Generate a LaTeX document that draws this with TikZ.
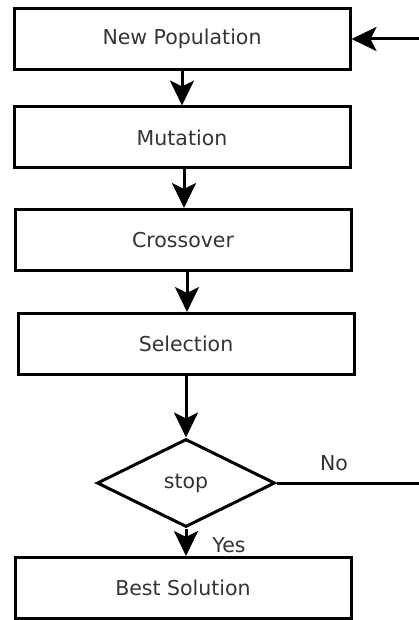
\documentclass[tikz,border=0pt]{standalone}
\usepackage{fontspec}
\setmainfont{DejaVu Sans}
\usetikzlibrary{shapes.geometric,arrows.meta}
\tikzset{arrowtipA/.tip={Stealth[length=25pt,width=24pt,inset=6pt]}}
\begin{document}
\begin{tikzpicture}[x=1pt,y=-1pt,
  txt/.style={text=black!80,font=\fontsize{20.5}{24}\selectfont},
  box/.style={txt,draw,line width=3pt,minimum width=336pt,minimum height=61pt,inner sep=0pt},
  dec/.style={txt,draw,line width=3pt,diamond,minimum width=178pt,minimum height=88pt,inner sep=0pt},
  lbl/.style={txt,inner sep=0pt},
  arr/.style={line width=3pt,-arrowtipA},
  ln/.style={line width=3pt}]
\useasboundingbox (0,0) rectangle (419,620);
\node[box] (b1) at (182,39) {New Population};
\node[box] (b2) at (182,137.5) {Mutation};
\node[box] (b3) at (183,240) {Crossover};
\node[box] (b4) at (186,344) {Selection};
\node[dec] (d) at (186,483) {stop};
\node[box] (b5) at (183,588) {Best Solution};
\node[lbl] (no) at (334,463) {No};
\node[lbl] (yes) at (229,545) {Yes};
\coordinate (c1) at (425,483);
\coordinate (c2) at (425,39);
\draw[arr] (b1.south) -- (b1.south |- b2.north);
\draw[arr] ([xshift=2pt]b2.south) -- ([xshift=2pt]b2.south |- b3.north);
\draw[arr] ([xshift=4pt]b3.south) -- ([xshift=4pt]b3.south |- b4.north);
\draw[arr] (b4.south) -- (d.north);
\draw[arr] (d.south) -- (d.south |- b5.north);
\draw[arr] (d.east) -- (c1) -- (c2) -- (b1.east);
\end{tikzpicture}
\end{document}
